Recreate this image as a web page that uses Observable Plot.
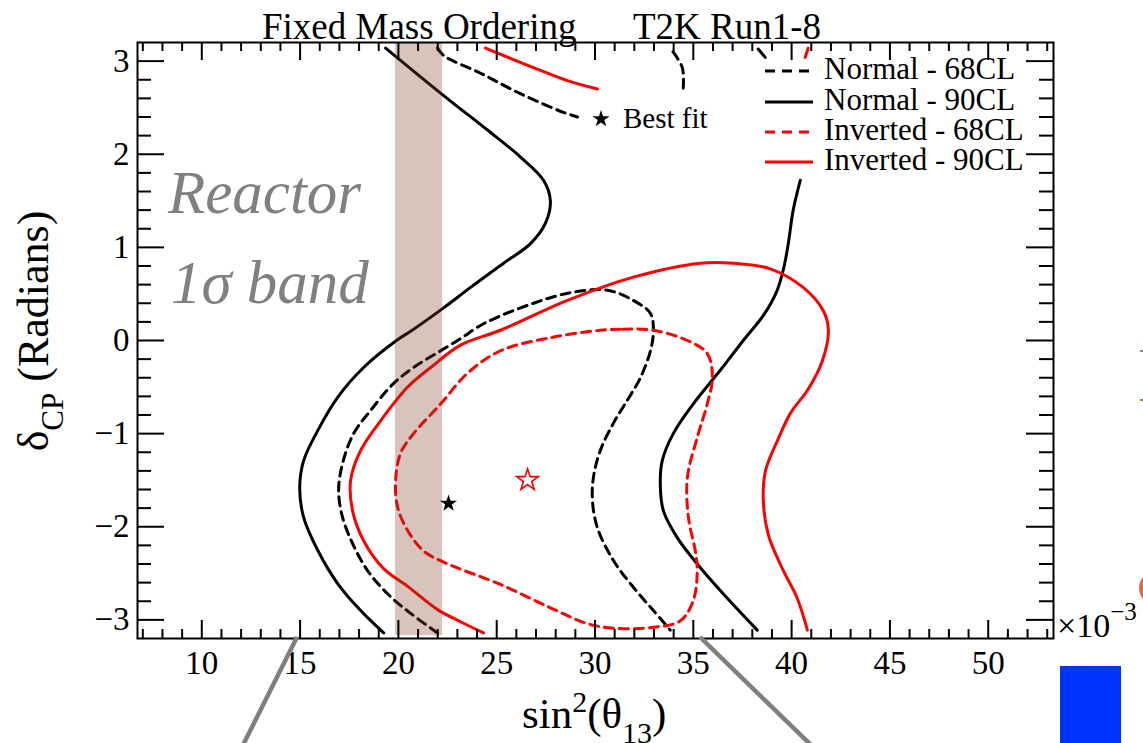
<!DOCTYPE html>
<html><head><meta charset="utf-8">
<script src="https://cdn.jsdelivr.net/npm/d3@7"></script>
<script src="https://cdn.jsdelivr.net/npm/@observablehq/plot@0.6"></script>
<style>html,body{margin:0;padding:0;background:#fff;overflow:hidden}svg{display:block}</style>
</head><body><div id="chart"></div>
<script>
// ---------- data ----------
const xDomain = [6.73, 53.32];          // sin^2(theta13) x 10^-3
const yDomain = [-3.2, 3.2];            // delta_CP (rad)
const xMajor = [10, 15, 20, 25, 30, 35, 40, 45, 50];
const xTickLabels = ["10", "15", "20", "25", "30", "35", "40", "45", "50"];
const yMajor = [-3, -2, -1, 0, 1, 2, 3];
const yTickLabels = ["\u22123", "\u22122", "\u22121", "0", "1", "2", "3"];
const xMinor = [7,8,9,11,12,13,14,16,17,18,19,21,22,23,24,26,27,28,29,31,32,33,34,36,37,38,39,41,42,43,44,46,47,48,49,51,52,53];
const yMinor = [-2.8,-2.6,-2.4,-2.2,-1.8,-1.6,-1.4,-1.2,-0.8,-0.6,-0.4,-0.2,0.2,0.4,0.6,0.8,1.2,1.4,1.6,1.8,2.2,2.4,2.6,2.8];

// reactor 1 sigma band
const reactorBandX = [19.85, 22.25];
const reactorBandY = [-3.17, 3.2];

// Normal ordering, 90% CL (black solid), visible pieces
const normal90 = [
  [[19.35,3.14],[22.30,2.63],[24.53,2.26],[26.21,1.97],[27.38,1.72],[27.73,1.50],[27.48,1.26],[26.72,1.04],[25.35,0.83],[23.67,0.57],[22.30,0.35],[20.70,0.11],[19.90,0.0],[18.23,-0.29],[16.91,-0.61],[15.89,-0.97],[15.18,-1.29],[14.98,-1.58],[15.18,-1.90],[15.89,-2.25],[16.91,-2.61],[18.08,-2.90],[19.25,-3.14]],
  [[38.30,3.13],[38.66,3.04]],
  [[40.44,1.72],[40.08,1.40],[39.83,1.04],[39.60,0.78],[39.25,0.53],[38.60,0.28],[37.54,0.0],[36.37,-0.32],[35.00,-0.68],[33.98,-1.00],[33.42,-1.29],[33.32,-1.54],[33.48,-1.83],[34.19,-2.12],[35.20,-2.40],[36.52,-2.72],[38.25,-3.11]]
];
// Normal ordering, 68% CL (black dashed)
const normal68 = [
  [[21.99,3.14],[22.30,3.06],[24.18,2.87],[26.21,2.65],[28.39,2.45],[29.11,2.40]],
  [[34.49,2.71],[34.44,2.93],[33.93,3.11]],
  [[21.99,-3.14],[20.62,-2.93],[19.45,-2.72],[18.43,-2.47],[17.67,-2.18],[17.16,-1.90],[16.96,-1.61],[17.16,-1.32],[17.72,-1.00],[18.59,-0.75],[19.76,-0.46],[20.77,-0.29],[21.99,-0.13],[23.16,0.02],[24.33,0.18],[26.87,0.40],[28.90,0.52],[30.63,0.54],[31.95,0.43],[32.82,0.29],[32.97,0.11],[32.82,-0.11],[32.31,-0.40],[31.65,-0.64],[30.93,-0.89],[30.27,-1.18],[29.92,-1.47],[29.87,-1.72],[30.12,-2.01],[30.93,-2.36],[31.95,-2.65],[32.97,-2.90],[33.83,-3.11]]
];
// Inverted ordering, 90% CL (red solid)
const inverted90 = [
  [[24.43,3.14],[26.87,2.93],[28.60,2.79],[30.12,2.70]],
  [[40.84,3.14],[40.69,3.04]],
  [[24.33,-3.14],[23.16,-3.02],[21.99,-2.89],[20.47,-2.64],[19.25,-2.45],[18.23,-2.15],[17.67,-1.83],[17.57,-1.50],[18.08,-1.18],[19.10,-0.86],[20.47,-0.50],[21.64,-0.29],[23.16,-0.05],[25.19,0.11],[28.60,0.43],[31.95,0.68],[35.36,0.83],[37.03,0.83],[38.91,0.77],[40.59,0.57],[41.61,0.32],[41.87,0.11],[41.56,-0.22],[40.85,-0.52],[39.94,-0.78],[39.29,-1.07],[38.67,-1.40],[38.56,-1.72],[38.82,-2.09],[39.53,-2.45],[40.29,-2.77],[40.80,-3.11]]
];
// Inverted ordering, 68% CL (red dashed), closed
const inverted68 = [[32.97,0.11],[31.29,0.12],[30.27,0.11],[27.73,0.03],[25.19,-0.11],[23.52,-0.35],[22.15,-0.68],[20.77,-1.00],[20.11,-1.21],[19.86,-1.50],[19.96,-1.79],[20.47,-2.04],[21.28,-2.26],[22.30,-2.38],[25.19,-2.62],[27.73,-2.87],[29.61,-3.04],[30.93,-3.09],[32.97,-3.08],[34.34,-3.01],[35.00,-2.79],[35.20,-2.47],[35.10,-2.26],[34.75,-1.90],[34.70,-1.47],[35.20,-1.04],[35.71,-0.68],[35.97,-0.40],[35.71,-0.14],[34.70,0.0]];

const bestFitNormal = [{x: 22.55, y: -1.75}];
const bestFitInverted = [{x: 26.57, y: -1.50}];

const legendLabels = ["Normal - 68CL", "Normal - 90CL", "Inverted - 68CL", "Inverted - 90CL"];
const legendColors = ["black", "black", "red", "red"];
const legendDash = ["10,7", null, "10,7", null];

// ---------- layout ----------
const W = 1143, H = 743, mL = 137, mR = 90, mT = 42, mB = 105;
const dataPerPxX = (xDomain[1] - xDomain[0]) / (W - mL - mR);
const dataPerPxY = (yDomain[1] - yDomain[0]) / (H - mT - mB);
const serif = "'Liberation Serif','Times New Roman',serif";

function rows(pieces) {
  const out = [];
  pieces.forEach((p, i) => p.forEach(([x, y]) => out.push({x, y, piece: i})));
  return out;
}

const tickStyle = {stroke: "black", strokeWidth: 2};
const plot = Plot.plot({
  width: W, height: H,
  marginLeft: mL, marginRight: mR, marginTop: mT, marginBottom: mB,
  x: {domain: xDomain, axis: null},
  y: {domain: yDomain, axis: null},
  style: {background: "white", fontFamily: serif, overflow: "visible"},
  marks: [
    Plot.line(rows(normal90), {x: "x", y: "y", z: "piece", stroke: "black", strokeWidth: 3, curve: "catmull-rom"}),
    Plot.line(rows(normal68), {x: "x", y: "y", z: "piece", stroke: "black", strokeWidth: 3, strokeDasharray: "9,6", curve: "catmull-rom"}),
    Plot.line(rows(inverted90), {x: "x", y: "y", z: "piece", stroke: "red", strokeWidth: 3, curve: "catmull-rom"}),
    Plot.line(inverted68.map(([x, y]) => ({x, y})), {x: "x", y: "y", stroke: "red", strokeWidth: 3, strokeDasharray: "9,6", curve: "catmull-rom-closed"}),
    Plot.rect([0], {x1: reactorBandX[0], x2: reactorBandX[1], y1: reactorBandY[0], y2: reactorBandY[1], fill: "rgb(125,55,38)", fillOpacity: 0.3}),
    Plot.dot(bestFitNormal, {x: "x", y: "y", symbol: "star", r: 5.4, fill: "black"}),
    Plot.dot(bestFitInverted, {x: "x", y: "y", symbol: "star", r: 6.8, fill: "white", stroke: "red", strokeWidth: 1.6}),
    // ticks (ROOT style, inside the frame, on all four sides)
    Plot.ruleX(xMajor, {x: d => d, y1: yDomain[0], y2: yDomain[0] + 18 * dataPerPxY, ...tickStyle}),
    Plot.ruleX(xMinor, {x: d => d, y1: yDomain[0], y2: yDomain[0] + 9 * dataPerPxY, ...tickStyle}),
    Plot.ruleX(xMajor, {x: d => d, y1: yDomain[1], y2: yDomain[1] - 18 * dataPerPxY, ...tickStyle}),
    Plot.ruleX(xMinor, {x: d => d, y1: yDomain[1], y2: yDomain[1] - 9 * dataPerPxY, ...tickStyle}),
    Plot.ruleY(yMajor, {y: d => d, x1: xDomain[0], x2: xDomain[0] + 27 * dataPerPxX, ...tickStyle}),
    Plot.ruleY(yMinor, {y: d => d, x1: xDomain[0], x2: xDomain[0] + 14 * dataPerPxX, ...tickStyle}),
    Plot.ruleY(yMajor, {y: d => d, x1: xDomain[1], x2: xDomain[1] - 27 * dataPerPxX, ...tickStyle}),
    Plot.ruleY(yMinor, {y: d => d, x1: xDomain[1], x2: xDomain[1] - 14 * dataPerPxX, ...tickStyle}),
    Plot.frame({stroke: "black", strokeWidth: 2}),
    // tick labels
    Plot.text(xMajor, {x: d => d, frameAnchor: "bottom", text: (d, i) => xTickLabels[i], dy: 35, lineAnchor: "bottom", fontSize: 33, fill: "black", fontFamily: serif}),
    Plot.text(yMajor, {y: d => d, frameAnchor: "left", text: (d, i) => yTickLabels[i], dx: -8, textAnchor: "end", lineAnchor: "middle", fontSize: 33, fill: "black", fontFamily: serif})
  ]
});
document.getElementById("chart").appendChild(plot);

// ---------- annotations, titles, legend ----------
const svg = d3.select(plot);
function txt(x, y, s, size, opts = {}) {
  return svg.append("text").attr("x", x).attr("y", y).attr("font-family", opts.family || serif)
    .attr("font-size", size).attr("fill", opts.fill || "black")
    .attr("font-style", opts.italic ? "italic" : null).attr("text-anchor", opts.anchor || "start").text(s);
}
// top titles
txt(262, 39, "Fixed Mass Ordering", 37);
txt(633, 39, "T2K Run1-8", 37);
// reactor text
txt(168, 213, "Reactor", 61, {italic: true, fill: "#808080"});
txt(171, 303, "1\u03c3 band", 61, {italic: true, fill: "#808080"});

// legend
const legY = [71, 102, 132, 162];
legendLabels.forEach((lab, i) => {
  svg.append("line").attr("x1", 765).attr("x2", 813).attr("y1", legY[i]).attr("y2", legY[i])
    .attr("stroke", legendColors[i]).attr("stroke-width", 3).attr("stroke-dasharray", legendDash[i]);
  txt(824, legY[i] + 8, lab, 31);
});
// best fit legend entry
svg.append("path").attr("d", d3.symbol(d3.symbolStar, Math.PI * 5.4 * 5.4)()).attr("transform", "translate(601,119)").attr("fill", "black");
txt(623, 128, "Best fit", 29);

// x axis title: sin^2(theta_13)
const xt = svg.append("text").attr("x", 522).attr("y", 728).attr("text-anchor", "start").attr("font-family", serif).attr("font-size", 43).attr("fill", "black");
xt.append("tspan").text("sin");
xt.append("tspan").attr("font-size", 30).attr("dy", -16).text("2");
xt.append("tspan").attr("dy", 16).text("(\u03b8");
xt.append("tspan").attr("font-size", 30).attr("dy", 15).text("13");
xt.append("tspan").attr("dy", -15).text(")");

// y axis title: delta_CP (Radians)
const yt = svg.append("text").attr("transform", "translate(48,331) rotate(-90)").attr("text-anchor", "middle")
  .attr("font-family", serif).attr("font-size", 44).attr("fill", "black");
yt.append("tspan").text("\u03b4");
yt.append("tspan").attr("font-size", 31).attr("dy", 15).text("CP");
yt.append("tspan").attr("dy", -15).text(" (Radians)");

// exponent
const ex = svg.append("text").attr("x", 1057).attr("y", 637).attr("text-anchor", "start").attr("font-family", serif).attr("font-size", 34).attr("fill", "black");
ex.append("tspan").text("\u00d710");
ex.append("tspan").attr("font-size", 25).attr("dy", -17).text("\u22123");

// slide decorations outside the chart
svg.append("line").attr("x1", 297).attr("y1", 637).attr("x2", 243).attr("y2", 745).attr("stroke", "#7f7f7f").attr("stroke-width", 4.5);
svg.append("line").attr("x1", 700).attr("y1", 637).attr("x2", 811).attr("y2", 745).attr("stroke", "#7f7f7f").attr("stroke-width", 4.5);
svg.append("rect").attr("x", 1060).attr("y", 666).attr("width", 61).attr("height", 80).attr("fill", "#0033ff");
svg.append("circle").attr("cx", 1156).attr("cy", 588).attr("r", 15).attr("fill", "none").attr("stroke", "#e06a4a").attr("stroke-width", 4);
svg.append("line").attr("x1", 1140).attr("x2", 1143).attr("y1", 351).attr("y2", 351).attr("stroke", "#e06a4a").attr("stroke-width", 2);
svg.append("line").attr("x1", 1140).attr("x2", 1143).attr("y1", 400).attr("y2", 400).attr("stroke", "#e06a4a").attr("stroke-width", 2);
</script>
</body></html>
